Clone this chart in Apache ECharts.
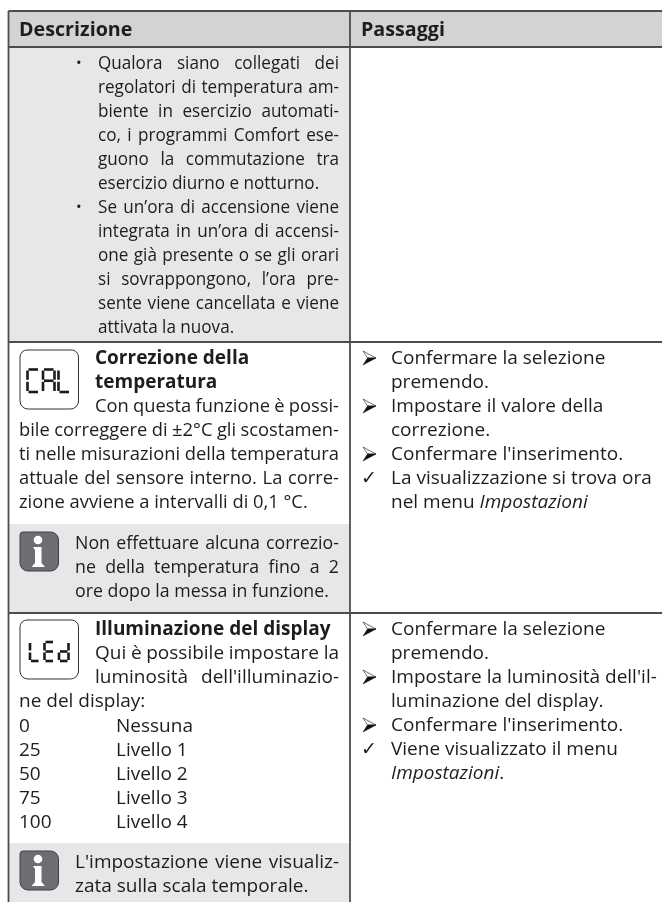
<!DOCTYPE html>
<html>
<head>
<meta charset="utf-8">
<title>Descrizione / Passaggi</title>
<style>
html,body { margin:0; padding:0; background:#fff; }
#main { width:662px; height:902px; }
</style>
</head>
<body>
<div id="main"></div>
<script src="https://cdn.jsdelivr.net/npm/echarts@6/dist/echarts.min.js"></script>
<script>
// testi della tabella
var headers = ['Descrizione', 'Passaggi'];
var bulletOne = ['Qualora siano collegati dei', 'regolatori di temperatura am-', 'biente in esercizio automati-', 'co, i programmi Comfort ese-', 'guono la commutazione tra', 'esercizio diurno e notturno.'];
var bulletTwo = ['Se un’ora di accensione viene', 'integrata in un’ora di accensi-', 'one già presente o se gli orari', 'si sovrappongono, l’ora pre-', 'sente viene cancellata e viene', 'attivata la nuova.'];
var calTitle = ['Correzione della', 'temperatura'];
var calBody = ['Con questa funzione è possi-', 'bile correggere di ±2°C gli scostamen-', 'ti nelle misurazioni della temperatura', 'attuale del sensore interno. La corre-', 'zione avviene a intervalli di 0,1 °C.'];
var calNote = ['Non effettuare alcuna correzio-', 'ne della temperatura fino a 2', 'ore dopo la messa in funzione.'];
var ledTitle = ['Illuminazione del display'];
var ledBody = ['Qui è possibile impostare la', 'luminosità dell\'illuminazio-', 'ne del display:'];
var ledValues = ['0', '25', '50', '75', '100'];
var ledLevels = ['Nessuna', 'Livello 1', 'Livello 2', 'Livello 3', 'Livello 4'];
var ledNote = ['L\'impostazione viene visualiz-', 'zata sulla scala temporale.'];
var calSteps = [['>', 'Confermare la selezione'], ['', 'premendo.'], ['>', 'Impostare il valore della'], ['', 'correzione.'], ['>', 'Confermare l\'inserimento.'], ['✓', 'La visualizzazione si trova ora'], ['', 'nel menu {i|Impostazioni}']];
var ledSteps = [['>', 'Confermare la selezione'], ['', 'premendo.'], ['>', 'Impostare la luminosità dell\'il-'], ['', 'luminazione del display.'], ['>', 'Confermare l\'inserimento.'], ['✓', 'Viene visualizzato il menu'], ['', '{i|Impostazioni}.']];
var calLcd = ['adef', 'abcefg', 'def'];
var ledLcd = ['def', 'adefg', 'bcdeg'];

var FONT = '"Open Sans"';
var SIZE = 19;
var PITCH = 24;
var TEXT = '#1f1c1d';
var RULE = '#4d4d4f';
var COL = 350, LEFT = 8.5, RIGHT = 339;

var els = [];
var ctx = document.createElement('canvas').getContext('2d');

function put(str, x, y, opt) {
    opt = opt || {};
    els.push({
        type: 'text', x: x, y: y + 0.8, silent: true, scaleX: opt.squeeze || 1,
        style: {
            text: str, fill: TEXT, fontFamily: opt.family || FONT,
            fontSize: opt.size || SIZE, fontWeight: opt.weight || 'normal',
            verticalAlign: 'middle', align: 'left',
            rich: { i: { fontStyle: 'italic', fontFamily: FONT, fontSize: SIZE, fill: TEXT } }
        }
    });
}
// riga giustificata: le parole vengono distribuite fino al margine destro
function justified(str, x, y, squeeze) {
    ctx.font = SIZE + 'px ' + FONT;
    var words = str.split(' ');
    var total = 0;
    words.forEach(function (w) { total += ctx.measureText(w).width; });
    var room = RIGHT - x - 2.8 * (words.length - 1);
    var k = Math.min(squeeze, room / total);
    var gap = (RIGHT - x - total * k) / (words.length - 1);
    var cx = x;
    words.forEach(function (w) {
        put(w, cx, y, { squeeze: k });
        cx += ctx.measureText(w).width * k + gap;
    });
}
// tutte le righe giustificate tranne l'ultima
function block(lines, x, y, squeeze, indentX, indentCount) {
    lines.forEach(function (l, i) {
        var lx = i < (indentCount || 0) ? indentX : x;
        if (i < lines.length - 1) justified(l, lx, y + i * PITCH, squeeze);
        else put(l, lx, y + i * PITCH, { squeeze: squeeze });
    });
}
function rect(x, y, w, h, fill) {
    els.push({ type: 'rect', silent: true, shape: { x: x, y: y, width: w, height: h }, style: { fill: fill } });
}
function rule(x1, y1, x2, y2) {
    els.push({ type: 'line', silent: true, shape: { x1: x1, y1: y1, x2: x2, y2: y2 }, style: { stroke: RULE, lineWidth: 1.8 } });
}
function arrow(y) {
    els.push({ type: 'polygon', silent: true, shape: { points: [[363, y - 7], [376, y], [367.5, y]] }, style: { fill: '#fff', stroke: '#333', lineWidth: 0.7 } });
    els.push({ type: 'polygon', silent: true, shape: { points: [[376, y], [367.5, y], [363, y + 7]] }, style: { fill: '#111', stroke: '#111', lineWidth: 0.5 } });
}
function steps(list, y) {
    list.forEach(function (s, i) {
        if (s[0] === '>') arrow(y + i * PITCH);
        else if (s[0]) put(s[0], 361, y + i * PITCH, { family: '"DejaVu Sans"', size: 19 });
        put(s[1], 391, y + i * PITCH);
    });
}
// display a sette segmenti
function lcd(word, x, y, w, h, step, bw) {
    word.forEach(function (d, k) {
        var l = x + k * step, r = l + w, m = y + h / 2, b = y + h;
        var seg = {
            a: [l + 1, y, r - 1, y], b: [r, y + 1, r, m - 1], c: [r, m + 1, r, b - 1], d: [l + 1, b, r - 1, b],
            e: [l, m + 1, l, b - 1], f: [l, y + 1, l, m - 1], g: [l + 1, m, r - 1, m]
        };
        d.split('').forEach(function (c) {
            var p = seg[c];
            els.push({ type: 'line', silent: true, shape: { x1: p[0], y1: p[1], x2: p[2], y2: p[3] }, style: { stroke: '#1a1a1a', lineWidth: bw } });
        });
    });
}
function lcdBox(y, h) {
    els.push({ type: 'rect', silent: true, shape: { x: 20, y: y, width: 58.5, height: h, r: [7, 7, 8, 8] }, style: { fill: '#fff', stroke: '#333', lineWidth: 1 } });
}
function infoIcon(y) {
    els.push({ type: 'rect', silent: true, shape: { x: 20, y: y, width: 38.5, height: 39, r: [3, 8, 8, 8] }, style: { fill: '#6d6e71', stroke: '#414042', lineWidth: 1 } });
    els.push({ type: 'circle', silent: true, shape: { cx: 38, cy: y + 8, r: 4.3 }, style: { fill: '#fff' } });
    els.push({
        type: 'polygon', silent: true,
        shape: { points: [[33, y + 15], [41.5, y + 15], [41.5, y + 31], [45, y + 35], [31.5, y + 35], [35, y + 31], [35, y + 18]] },
        style: { fill: '#fff' }
    });
}

// sfondi
rect(LEFT, 11, 662, 36, '#d1d3d4');
rect(LEFT, 47, COL - LEFT, 295, '#e6e7e8');
rect(LEFT, 524, COL - LEFT, 89, '#e6e7e8');
rect(LEFT, 843, COL - LEFT, 59, '#e6e7e8');

// righe della griglia
rule(LEFT, 11, 662, 11);
rule(LEFT, 47, 662, 47);
rule(LEFT, 342, 662, 342);
rule(LEFT, 613, 662, 613);
rule(LEFT, 11, LEFT, 902);
rule(COL, 11, COL, 902);

// intestazione
put(headers[0], 19, 29.5, { weight: 'bold', size: 19.7 });
put(headers[1], 361, 29.5, { weight: 'bold', size: 19.7 });

// prima riga
put('•', 76, 63, { size: 15 });
put('•', 76, 207, { size: 15 });
block(bulletOne, 98, 63, 0.9);
block(bulletTwo, 98, 207, 0.9);

// correzione della temperatura
lcdBox(350, 59);
lcd(calLcd, 27.5, 369.5, 11.5, 22.5, 15.5, 2.6);
calTitle.forEach(function (l, i) { put(l, 95, 358 + i * PITCH, { weight: 'bold' }); });
block(calBody, 19, 406, 0.965, 95, 1);
infoIcon(532);
block(calNote, 75, 543, 0.935);
steps(calSteps, 358);

// illuminazione
lcdBox(620, 59);
lcd(ledLcd, 30, 642, 9.5, 19, 14.5, 2.6);
put(ledTitle[0], 95, 629, { weight: 'bold' });
block(ledBody, 19, 653, 1, 95, 2);
ledValues.forEach(function (v, i) {
    put(v, 19, 725.5 + i * PITCH);
    put(ledLevels[i], 116, 725.5 + i * PITCH);
});
infoIcon(851);
block(ledNote, 75, 862, 1);
steps(ledSteps, 629);

var myChart = echarts.init(document.getElementById('main'));
myChart.setOption({ animation: false, backgroundColor: '#fff', graphic: { elements: els } });
</script>
</body>
</html>
